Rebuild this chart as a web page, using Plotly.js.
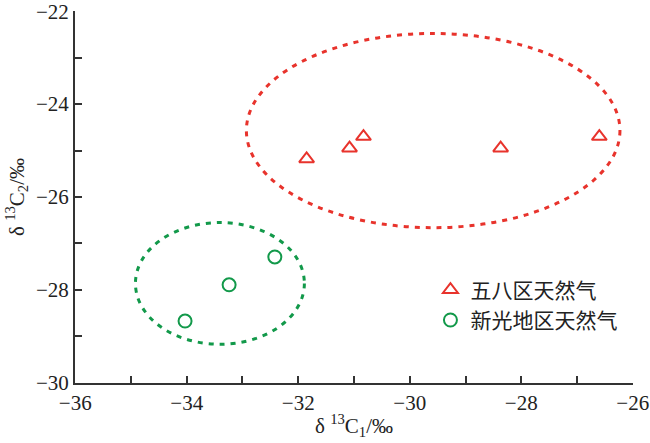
<!DOCTYPE html>
<html><head><meta charset="utf-8">
<script src="https://cdn.plot.ly/plotly-3.0.1.min.js"></script>
<style>html,body{margin:0;padding:0;background:#fff}#c{width:650px;height:443px}</style>
</head><body><div id="c"></div>
<script>
// Series: 五八区天然气 (red triangles)
const wubaName = '五八区天然气';
const wubaC1 = [-31.85, -31.08, -30.83, -28.37, -26.6];
const wubaC2 = [-25.18, -24.95, -24.70, -24.95, -24.70];
// Series: 新光地区天然气 (green circles)
const xinName = '新光地区天然气';
const xinC1 = [-34.03, -33.24, -32.42];
const xinC2 = [-28.67, -27.89, -27.29];
// Grouping ellipses (data-space bounds: [x0, x1], [y0, y1])
const wubaEllipseX = [-32.93, -26.23];
const wubaEllipseY = [-26.66, -22.48];
const xinEllipseX = [-34.92, -31.89];
const xinEllipseY = [-29.17, -26.55];
// Axes
const xRange = [-36.004, -25.996];
const yRange = [-30.004, -21.996];
const xTickVals = [-36, -34, -32, -30, -28, -26];
const xTickText = ['−36', '−34', '−32', '−30', '−28', '−26'];
const yTickVals = [-30, -28, -26, -24, -22];
const yTickText = ['−30', '−28', '−26', '−24', '−22'];

const red = '#e8332c', green = '#12994a';
const serif = 'Liberation Serif, Times New Roman, serif';
const cjk = 'Noto Sans CJK SC, sans-serif';

const traces = [
  {x: wubaC1, y: wubaC2, name: wubaName, type: 'scatter', mode: 'markers', cliponaxis: false,
   marker: {symbol: 'triangle-up-open', size: 13, color: red, line: {width: 2, color: red}}},
  {x: xinC1, y: xinC2, name: xinName, type: 'scatter', mode: 'markers', cliponaxis: false,
   marker: {symbol: 'circle-open', size: 13, color: green, line: {width: 2, color: green}}}
];

const axisCommon = {
  showgrid: false, zeroline: false, showline: true, linecolor: '#333', linewidth: 2,
  ticks: 'inside', ticklen: 7, tickwidth: 2, tickcolor: '#333', tickmode: 'array',
  ticklabeloverflow: 'allow',
  minor: {dtick: 1, ticks: 'inside', ticklen: 7, tickwidth: 2, tickcolor: '#333'},
  tickfont: {family: serif, size: 21, color: '#222'}, mirror: false
};

const layout = {
  width: 650, height: 443,
  margin: {l: 75, r: 17, t: 11, b: 60},
  paper_bgcolor: '#fff', plot_bgcolor: '#fff',
  showlegend: true,
  legend: {x: 0.637, y: 0.305, xanchor: 'left', yanchor: 'top', bgcolor: 'rgba(0,0,0,0)',
           font: {family: cjk, size: 21, color: '#222'}, itemwidth: 30, tracegroupgap: 2},
  xaxis: Object.assign({}, axisCommon, {range: xRange, tickvals: xTickVals, ticktext: xTickText,
    minor: Object.assign({}, axisCommon.minor, {tick0: -36}),
    title: {text: 'δ <sup>13</sup>C<sub>1</sub>/‰', font: {family: serif, size: 21, color: '#222'}, standoff: 4}}),
  yaxis: Object.assign({}, axisCommon, {range: yRange, tickvals: yTickVals, ticktext: yTickText,
    minor: Object.assign({}, axisCommon.minor, {tick0: -30}),
    title: {text: 'δ <sup>13</sup>C<sub>2</sub>/‰', font: {family: serif, size: 21, color: '#222'}, standoff: 6}}),
  shapes: [
    {type: 'circle', xref: 'x', yref: 'y', x0: wubaEllipseX[0], x1: wubaEllipseX[1], y0: wubaEllipseY[0], y1: wubaEllipseY[1],
     line: {color: red, width: 3, dash: '5px,6px'}},
    {type: 'circle', xref: 'x', yref: 'y', x0: xinEllipseX[0], x1: xinEllipseX[1], y0: xinEllipseY[0], y1: xinEllipseY[1],
     line: {color: green, width: 3, dash: '5px,6px'}}
  ]
};

Plotly.newPlot('c', traces, layout, {staticPlot: true, displayModeBar: false});
</script>
</body></html>
